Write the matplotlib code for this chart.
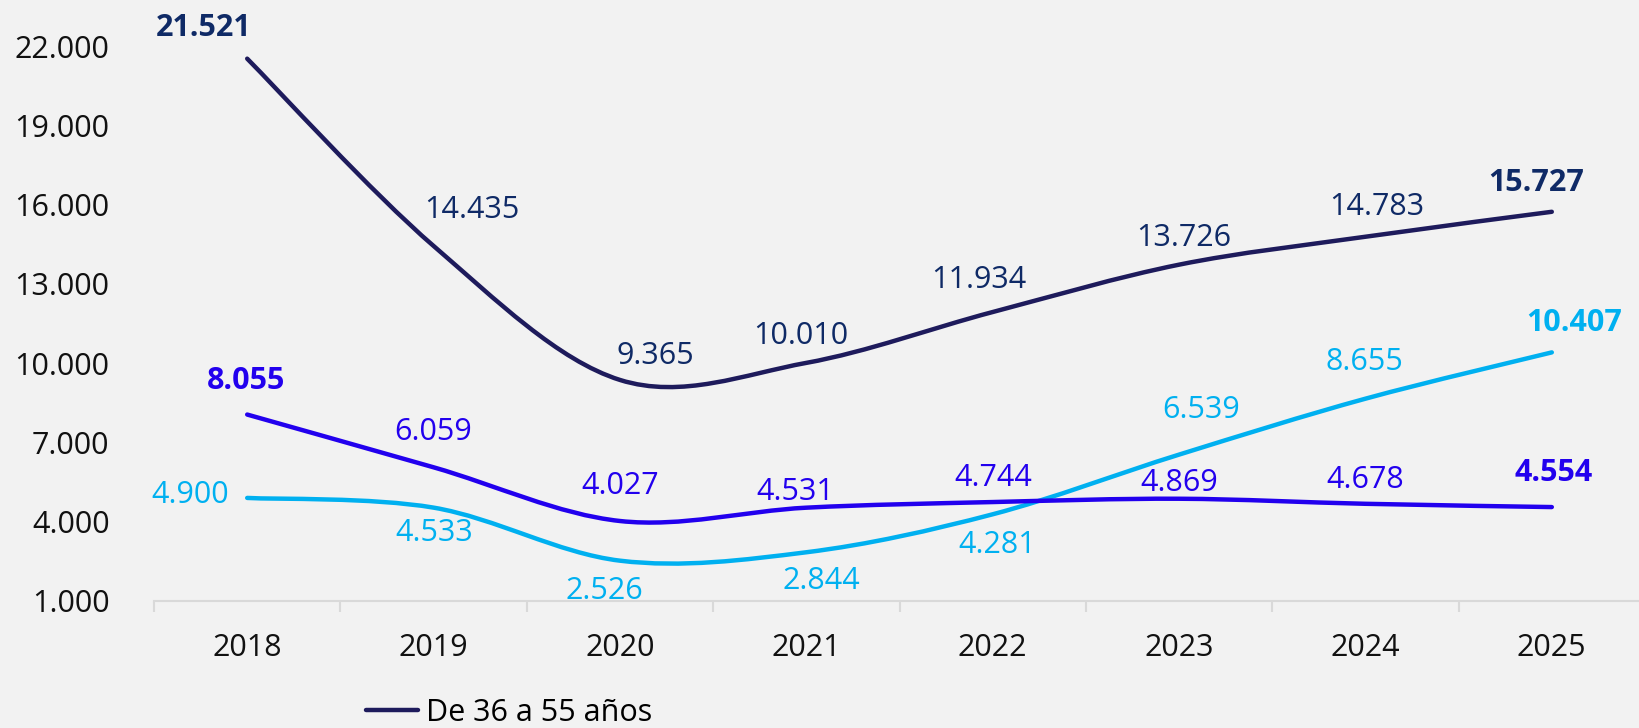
import matplotlib.pyplot as plt
from matplotlib.path import Path
from matplotlib.patches import PathPatch
from matplotlib.lines import Line2D
from matplotlib.ticker import FixedLocator, FuncFormatter

plt.rcParams['font.family'] = ['Open Sans', 'DejaVu Sans']

years = ['2018', '2019', '2020', '2021', '2022', '2023', '2024', '2025']
de_36_a_55 = [21521, 14435, 9365, 10010, 11934, 13726, 14783, 15727]
serie_azul = [8055, 6059, 4027, 4531, 4744, 4869, 4678, 4554]
serie_celeste = [4900, 4533, 2526, 2844, 4281, 6539, 8655, 10407]
yticks = [1000, 4000, 7000, 10000, 13000, 16000, 19000, 22000]

bg = '#f2f2f2'
navy_line, navy_text = '#1e1b5c', '#0f2a66'
blue = '#2200ee'
light = '#00b0f0'


def fmt(v):
    return '{:,}'.format(int(v)).replace(',', '.')


def smooth_path(ys):
    # Excel-like smoothed line: cubic bezier segments through every point
    xs = list(range(len(ys)))
    pts = list(zip(xs, ys))
    verts = [pts[0]]
    codes = [Path.MOVETO]
    n = len(pts)
    for i in range(n - 1):
        p0 = pts[i - 1] if i > 0 else pts[i]
        p1 = pts[i]
        p2 = pts[i + 1]
        p3 = pts[i + 2] if i + 2 < n else pts[i + 1]
        c1 = (p1[0] + (p2[0] - p0[0]) / 6, p1[1] + (p2[1] - p0[1]) / 6)
        c2 = (p2[0] - (p3[0] - p1[0]) / 6, p2[1] - (p3[1] - p1[1]) / 6)
        verts += [c1, c2, p2]
        codes += [Path.CURVE4] * 3
    return Path(verts, codes)


fig = plt.figure(figsize=(16.4, 7.28), dpi=100, facecolor=bg)
ax = fig.add_axes([154 / 1640, 1 - 601 / 728, (1645 - 154) / 1640, (601 - 46) / 728])
ax.set_facecolor(bg)

for ys, col in [(serie_celeste, light), (serie_azul, blue), (de_36_a_55, navy_line)]:
    ax.add_patch(PathPatch(smooth_path(ys), facecolor='none', edgecolor=col,
                           lw=3.2, capstyle='round', joinstyle='round', clip_on=False))

ax.set_xlim(-0.5, 7.5)
ax.set_ylim(1000, 22000)

# label offsets in pixels (dx, dy)
off_navy = [(-44, 31), (38, 36), (35, 24), (-6, 27), (-14, 32), (5, 27), (11, 30), (-16, 29)]
off_blue = [(-1, 34), (0, 35), (0, 35), (-11, 16), (1, 24), (0, 16), (0, 24), (2, 34)]
off_light = [(-57, 3), (1, -25), (-16, -30), (15, -29), (5, -31), (22, 45), (-1, 37), (22, 29)]

for ys, offs, col in [(de_36_a_55, off_navy, navy_text), (serie_azul, off_blue, blue),
                      (serie_celeste, off_light, light)]:
    for i, (v, o) in enumerate(zip(ys, offs)):
        bold = i == 0 and ys is not serie_celeste or i == len(ys) - 1
        ax.annotate(fmt(v), (i, v), xytext=o, textcoords='offset pixels',
                    ha='center', va='center', color=col, fontsize=22,
                    fontweight='bold' if bold else 'normal', annotation_clip=False)

for s in ['top', 'right', 'left']:
    ax.spines[s].set_visible(False)
ax.spines['bottom'].set_color('#d9d9d9')
ax.spines['bottom'].set_linewidth(1.5)

ax.set_xticks(range(len(years)))
ax.set_xticklabels(years)
ax.xaxis.set_minor_locator(FixedLocator([i - 0.5 for i in range(len(years) + 1)]))
ax.tick_params(axis='x', which='major', length=0, pad=23, labelsize=22, labelcolor='#111111')
ax.tick_params(axis='x', which='minor', length=8, width=1.5, color='#d9d9d9')

ax.set_yticks(yticks)
ax.yaxis.set_major_formatter(FuncFormatter(lambda v, p: fmt(v)))
ax.tick_params(axis='y', length=0, pad=32, labelsize=22, labelcolor='#111111')

handle = Line2D([], [], color=navy_line, lw=3.2, solid_capstyle='round')
fig.legend([handle], ['De 36 a 55 años'], loc='center left', frameon=False,
           bbox_to_anchor=(366 / 1640, 1 - 713 / 728), borderpad=0, borderaxespad=0,
           handlelength=1.7, handletextpad=0.25, fontsize=22)

fig.savefig('out.png', dpi=100, facecolor=bg)
